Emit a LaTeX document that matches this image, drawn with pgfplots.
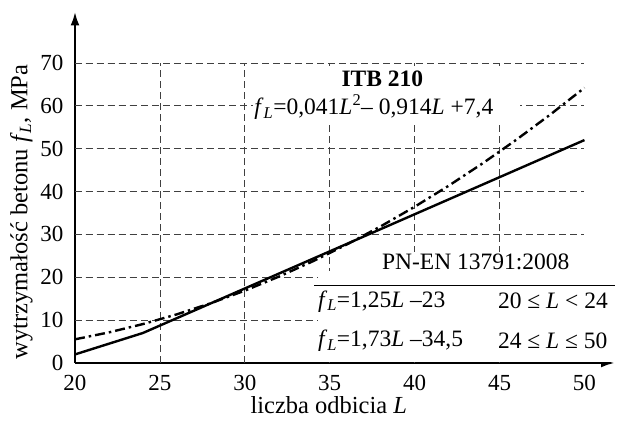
\documentclass[border=0pt]{standalone}
\usepackage{fontspec}
\setmainfont{Liberation Serif}
\usepackage{pgfplots}
\pgfplotsset{compat=1.18}
\usetikzlibrary{arrows.meta}

\newcommand{\fL}{\textit{f}\textsubscript{\textit{L}}}
\newcommand{\tickfont}{\fontsize{23}{27}\selectfont}
\newcommand{\labfont}{\fontsize{24.5}{28}\selectfont}
\newcommand{\txtfont}{\fontsize{23.5}{28}\selectfont}

\begin{document}
\begin{tikzpicture}
\begin{axis}[name=ax, scale only axis, width=540pt, height=351.5pt,
  xmin=20, xmax=51.8, ymin=0, ymax=82, clip=false,
  axis lines=left,
  axis line style={line width=2.6pt, -{Latex[length=14pt,width=9pt]}},
  xtick={20,25,...,50}, ytick={0,10,...,70}, major tick length=0pt,
  tick label style={font=\tickfont}, /pgf/number format/assume math mode=true,
  xticklabel style={yshift=-9pt}, yticklabel style={xshift=-8pt},
  xlabel={liczba odbicia \textit{L}},
  ylabel={wytrzymałość betonu \fL, MPa},
  every axis x label/.style={at={(ticklabel cs:0.47)}, anchor=north, yshift=1pt, font=\labfont},
  every axis y label/.style={at={(ticklabel cs:0.43)}, rotate=90, anchor=south, yshift=1pt, font=\labfont}]

% grid
\foreach \x in {25,30,35,40,45}
  \edef\tmp{\noexpand\draw[black!75, line width=0.7pt, dash pattern=on 7pt off 4pt] (axis cs:\x,0) -- (axis cs:\x,70);}\tmp
\foreach \y in {10,20,...,70}
  \edef\tmp{\noexpand\draw[black!75, line width=0.7pt, dash pattern=on 7pt off 4pt] (axis cs:20,\y) -- (axis cs:50,\y);}\tmp
\fill[white] (axis cs:34.3,0.3) rectangle (axis cs:51.8,21.5);
\fill[white] (axis cs:30.5,56.3) rectangle (axis cs:46.2,69.3);
\draw[line width=0.8pt] (axis cs:34.1,18.2) -- (axis cs:51.8,18.2);

% PN-EN 13791:2008
\addplot[black, line width=2.4pt] coordinates {(20,2.0)(24,7.0)(50,52.0)};
% ITB 210
\addplot[black, line width=2.4pt, dash pattern=on 10pt off 4pt on 2.5pt off 4pt]
  coordinates {(20,5.52)(22,7.14)(24,9.08)(26,11.35)(28,13.95)(30,16.88)(32,20.14)
  (34,23.72)(36,27.63)(38,31.87)(40,36.44)(42,41.34)(44,46.56)(46,52.11)(48,57.99)(50,64.2)};

\node[font=\txtfont\bfseries, inner sep=0pt] at (axis cs:38.1,66.3) {ITB 210};
\node[font=\txtfont, inner sep=0pt] at (axis cs:37.6,59.7) {\fL=0,041\textit{L}\textsuperscript{2}– 0,914\textit{L} +7,4};
\node[font=\txtfont, fill=white, inner sep=2pt] at (axis cs:43.6,23.6) {PN-EN 13791:2008};
\node[font=\txtfont, anchor=west, inner sep=0pt] at (axis cs:34.3,14.4) {\fL=1,25\textit{L} –23};
\node[font=\txtfont, anchor=west, inner sep=0pt] at (axis cs:44.9,14.4) {20 ≤ \textit{L} < 24};
\node[font=\txtfont, anchor=west, inner sep=0pt] at (axis cs:34.3,5.1) {\fL=1,73\textit{L} –34,5};
\node[font=\txtfont, anchor=west, inner sep=0pt] at (axis cs:44.9,5.1) {24 ≤ \textit{L} ≤ 50};
\end{axis}
\path ([shift={(-75pt,-63pt)}]ax.south west) rectangle ([shift={(6pt,11.5pt)}]ax.north east);
\end{tikzpicture}
\end{document}
